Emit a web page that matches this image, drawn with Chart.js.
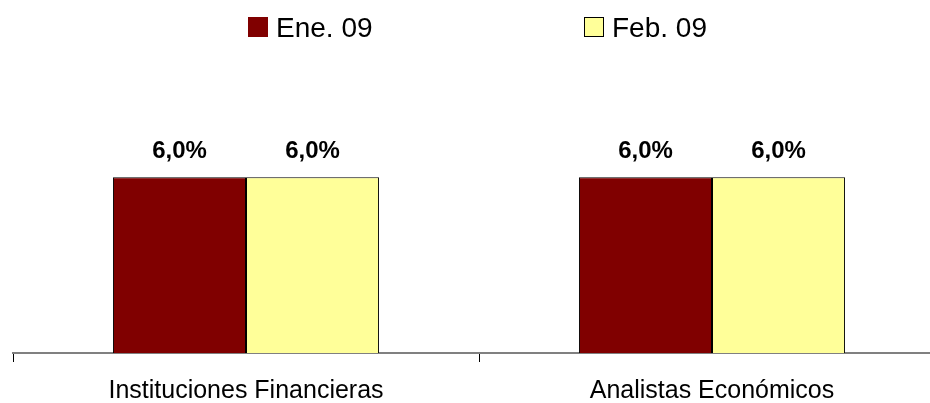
<!DOCTYPE html>
<html>
<head>
<meta charset="utf-8">
<script src="https://cdn.jsdelivr.net/npm/chart.js@4"></script>
<style>
  html, body { margin: 0; padding: 0; background: #fff; overflow: hidden; }
  #wrap { width: 960px; height: 403px; }
</style>
</head>
<body>
<div id="wrap"><canvas id="chart" width="960" height="403"></canvas></div>
<script>
// data
const categories = ['Instituciones Financieras', 'Analistas Económicos'];
const seriesNames = ['Ene. 09', 'Feb. 09'];
const eneValues = [6.0, 6.0];
const febValues = [6.0, 6.0];
const colors = ['#800000', '#FFFF99'];

const FONT = '"Liberation Sans", Arial, sans-serif';

// legend drawn by hand at top
const legendPlugin = {
  id: 'topLegend',
  afterDraw(chart) {
    const c = chart.ctx;
    const xs = [248, 584];
    c.save();
    chart.data.datasets.forEach((ds, i) => {
      c.fillStyle = ds.backgroundColor;
      c.fillRect(xs[i], 17, 20, 20);
      if (i == 1) {
        c.strokeStyle = '#000';
        c.lineWidth = 1;
        c.strokeRect(xs[i] + 0.5, 17.5, 19, 19);
      }
      c.fillStyle = '#000';
      c.font = '28px ' + FONT;
      c.textBaseline = 'alphabetic';
      c.fillText(ds.label, xs[i] + 28, 37);
    });
    c.restore();
  }
};

// value labels above bars
const valuePlugin = {
  id: 'values',
  afterDatasetsDraw(chart) {
    const c = chart.ctx;
    c.save();
    c.font = 'bold 24px ' + FONT;
    c.fillStyle = '#000';
    c.textAlign = 'center';
    c.textBaseline = 'alphabetic';
    chart.data.datasets.forEach((ds, i) => {
      chart.getDatasetMeta(i).data.forEach((bar, j) => {
        c.fillText(ds.data[j].toFixed(1).replace('.', ',') + '%', bar.x, bar.y - 19);
      });
    });
    c.restore();
  }
};

const ctx = document.getElementById('chart').getContext('2d');
const chart = new Chart(ctx, {
  type: 'bar',
  data: {
    labels: categories,
    datasets: [
      { label: seriesNames[0], data: eneValues, backgroundColor: colors[0], borderColor: '#000', borderWidth: 1 },
      { label: seriesNames[1], data: febValues, backgroundColor: colors[1], borderColor: '#000', borderWidth: 1 }
    ]
  },
  options: {
    responsive: false,
    animation: false,
    events: [],
    layout: { padding: { left: 13, right: 15, top: 60, bottom: 0 } },
    plugins: { legend: { display: false }, tooltip: { enabled: false } },
    datasets: { bar: { categoryPercentage: 0.571, barPercentage: 1.0 } },
    scales: {
      x: {
        grid: { display: true, drawOnChartArea: false, drawTicks: true, tickLength: 9, color: '#000', offset: true },
        border: { display: true, color: '#808080', width: 2 },
        ticks: { color: '#000', font: { family: FONT, size: 25 }, padding: 14, maxRotation: 0 },
        afterFit(scale) { scale.height = 50; }
      },
      y: {
        display: false,
        min: 0,
        max: 10
      }
    }
  },
  plugins: [legendPlugin, valuePlugin]
});
</script>
</body>
</html>
